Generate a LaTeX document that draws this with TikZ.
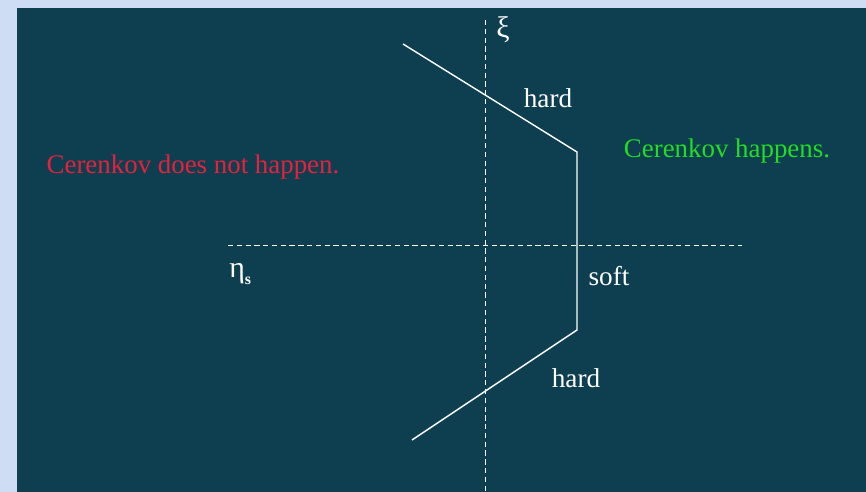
\documentclass[tikz,border=0pt]{standalone}
\usepackage{fontspec}
\setmainfont{Liberation Serif}
\usepackage{xcolor}

\definecolor{pagebg}{HTML}{CFDDF4}
\definecolor{panelbg}{HTML}{0E3F50}
\definecolor{nothappen}{HTML}{E8203C}
\definecolor{happen}{HTML}{22DD22}

\begin{document}
\begin{tikzpicture}[
  x=0.02cm, y=-0.02cm,
  axis/.style={draw=white,dashed,dash pattern=on 3pt off 2pt,line width=0.5pt},  curve/.style={draw=white,line width=0.8pt},  lbl/.style={text=white,inner sep=0pt,font=\fontsize{15.5}{18}\selectfont},  greek/.style={text=white,inner sep=0pt,font=\fontsize{17}{20}\selectfont},  region/.style={inner sep=0pt,font=\fontsize{15.3}{18}\selectfont}
]
  \fill[pagebg] (0,0) rectangle (866,492);
  \fill[panelbg] (17,8) rectangle (866,492);
  \useasboundingbox (0,0) rectangle (866,492);
  \coordinate (xitop) at (485,20);
  \coordinate (xibot) at (485,492);
  \coordinate (etal) at (228,245);
  \coordinate (etar) at (742,245);
  \draw[axis] (xitop) -- (xibot);
  \draw[axis] (etal) -- (etar);
  \node[greek] (xi) at (503,30) {ξ};
  \node[greek,anchor=west] (eta) at (229,274) {η\raisebox{-0.5ex}{\fontsize{9}{10}\selectfont\bfseries s}};
  \coordinate (p0) at (403,44);
  \coordinate (p1) at (577,152);
  \coordinate (p2) at (577,330);
  \coordinate (p3) at (412,440);
  \draw[curve] (p0) -- (p1) -- (p2) -- (p3);
  \node[lbl] (hardup) at (548,98) {hard};
  \node[lbl] (soft) at (609,276) {soft};
  \node[lbl] (harddown) at (576,378) {hard};
  \node[region,text=nothappen] (no) at (193,167) {Cerenkov does not happen.};
  \node[region,text=happen] (yes) at (727,151) {Cerenkov happens.};
\end{tikzpicture}
\end{document}
